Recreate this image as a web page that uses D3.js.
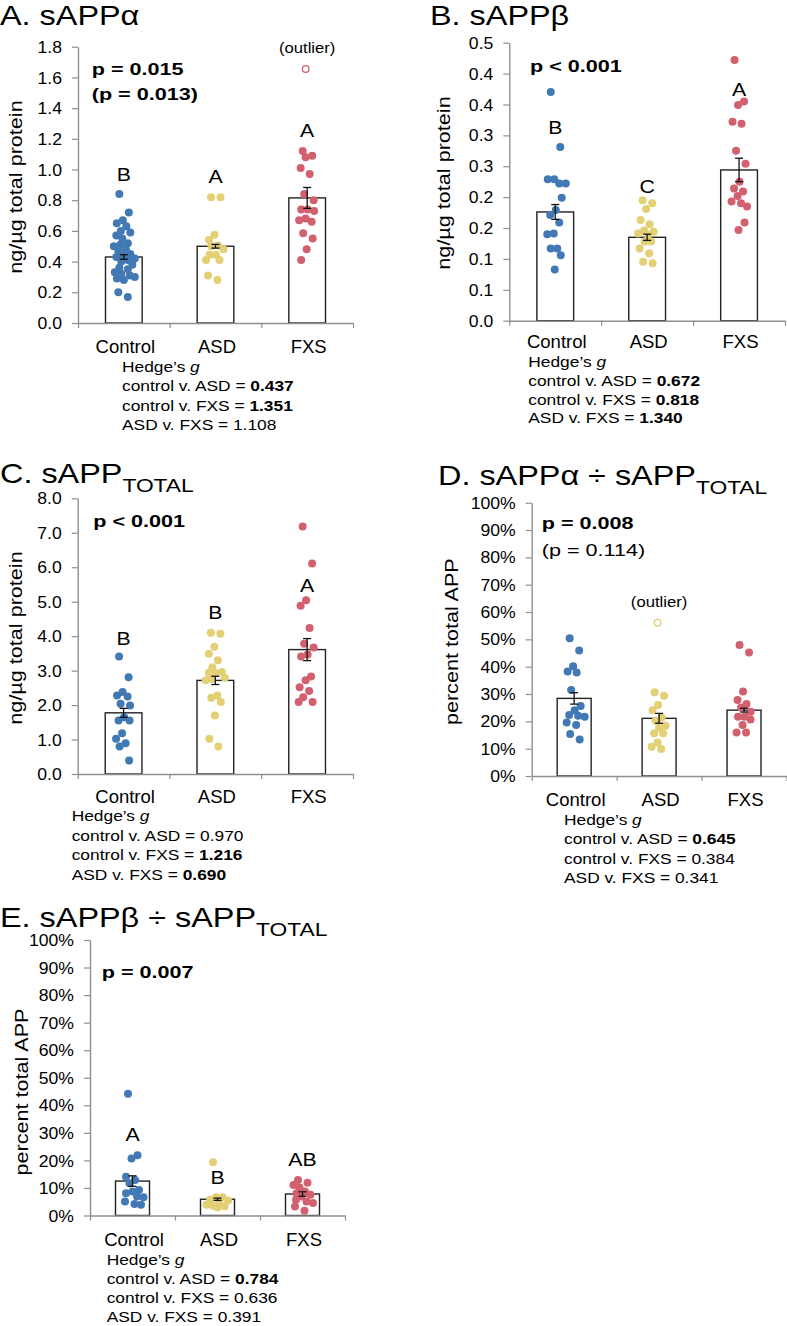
<!DOCTYPE html>
<html><head><meta charset="utf-8">
<script src="https://cdn.jsdelivr.net/npm/d3@7"></script>
<style>
body{margin:0;background:#fff;}
svg{display:block;font-family:"Liberation Sans",Arial,sans-serif;}
</style></head>
<body><svg id="chart" width="787" height="1326"></svg>
<script>
// ---------- DATA ----------
const categories = ["Control", "ASD", "FXS"];
const groupColors = ["#4279b4", "#e3cf74", "#d3606f"];
const comparisons = ["control v. ASD = ", "control v. FXS = ", "ASD v. FXS = "];

// Panel A: sAPPα (ng/µg total protein)
const aControl = [0.84,0.72,0.67,0.65,0.63,0.60,0.59,0.57,0.55,0.52,0.51,0.50,0.48,0.47,0.45,0.44,0.43,0.42,0.41,0.40,0.38,0.36,0.35,0.33,0.32,0.31,0.30,0.29,0.28,0.20,0.17];
const aASD = [0.82,0.82,0.575,0.54,0.505,0.50,0.48,0.445,0.445,0.41,0.41,0.31,0.28];
const aFXS = [1.12,1.09,1.08,1.01,0.97,0.84,0.80,0.74,0.74,0.73,0.68,0.67,0.66,0.585,0.55,0.48,0.41];
const aOutliers = [null, null, 1.655];
const aMeans = [0.43, 0.50, 0.815];
const aSE = [0.015, 0.012, 0.068];
const aLetters = ["B", "A", "A"];
const aLetterY = [0.922, 0.915, 1.21];
const aTicks = [0,0.2,0.4,0.6,0.8,1.0,1.2,1.4,1.6,1.8];
const aTickLabels = ["0.0","0.2","0.4","0.6","0.8","1.0","1.2","1.4","1.6","1.8"];
const aPText = ["p = 0.015", "(p = 0.013)"];
const aHedge = ["0.437", "1.351", "1.108"];
const aHedgeBold = [true, true, false];

// Panel B: sAPPβ
const bControl = [0.370,0.281,0.229,0.229,0.222,0.222,0.199,0.179,0.171,0.159,0.141,0.140,0.117,0.117,0.106,0.083];
const bASD = [0.195,0.190,0.181,0.163,0.156,0.146,0.144,0.141,0.139,0.128,0.128,0.117,0.109,0.0955,0.093];
const bFXS = [0.422,0.355,0.349,0.322,0.319,0.275,0.254,0.225,0.214,0.209,0.202,0.193,0.190,0.185,0.159,0.147];
const bMeans = [0.176, 0.135, 0.244];
const bSE = [0.012, 0.005, 0.019];
const bLetters = ["B", "C", "A"];
const bLetterY = [0.303, 0.207, 0.364];
const bTicks = [0,0.05,0.10,0.15,0.20,0.25,0.30,0.35,0.40,0.45];
const bTickLabels = ["0.0","0.1","0.1","0.2","0.2","0.3","0.3","0.4","0.4","0.5"];
const bPText = ["p < 0.001"];
const bHedge = ["0.672", "0.818", "1.340"];
const bHedgeBold = [true, true, true];

// Panel C: sAPP total
const cControl = [3.41,2.81,2.38,2.28,2.25,2.04,1.99,1.65,1.55,1.55,1.18,1.02,0.89,0.80,0.39];
const cASD = [4.10,4.07,3.69,3.49,3.30,3.10,2.96,2.94,2.93,2.79,2.76,2.72,2.28,2.21,2.09,1.70,1.02,0.80];
const cFXS = [7.18,6.11,5.04,4.88,4.24,3.78,3.67,3.47,3.41,2.83,2.72,2.52,2.41,2.23,2.09,2.09];
const cMeans = [1.775, 2.716, 3.61];
const cSE = [0.13, 0.12, 0.32];
const cLetters = ["B", "B", "A"];
const cLetterY = [3.75, 4.51, 5.29];
const cTicks = [0,1,2,3,4,5,6,7,8];
const cTickLabels = ["0.0","1.0","2.0","3.0","4.0","5.0","6.0","7.0","8.0"];
const cPText = ["p < 0.001"];
const cHedge = ["0.970", "1.216", "0.690"];
const cHedgeBold = [false, true, true];

// Panel D: sAPPα ÷ sAPP total (percent)
const dControl = [50.4,45.9,40.2,38.2,37.9,31.5,25.6,24.1,22.3,22.0,21.7,19.6,18.7,15.4,13.4];
const dASD = [30.6,29.4,26.0,24.1,21.3,20.2,18.4,17.7,15.6,15.6,12.3,10.7,9.9];
const dFXS = [47.9,45.2,30.9,27.8,26.3,25.1,23.5,21.7,21.7,20.7,18.7,15.9,15.9];
const dOutliers = [null, 56.1, null];
const dMeans = [28.4, 21.1, 24.1];
const dSE = [2.1, 1.8, 0.7];
const pctTicks = [0,10,20,30,40,50,60,70,80,90,100];
const pctTickLabels = ["0%","10%","20%","30%","40%","50%","60%","70%","80%","90%","100%"];
const dPText = ["p = 0.008", "(p = 0.114)"];
const dHedge = ["0.645", "0.384", "0.341"];
const dHedgeBold = [true, false, false];

// Panel E: sAPPβ ÷ sAPP total (percent)
const eControl = [44.2,21.9,20.7,14.1,12.9,11.7,9.3,8.7,8.1,6.9,6.6,5.1,4.2,3.9];
const eASD = [19.3,6.6,6.6,5.7,5.4,4.5,3.9,3.5,3.3,2.9];
const eFXS = [12.9,11.9,11.1,10.2,8.7,8.1,7.5,6.9,5.7,5.1,4.5,3.3,1.7];
const eMeans = [12.5, 5.9, 7.8];
const eSE = [1.9, 0.4, 0.8];
const eLetters = ["A", "B", "AB"];
const eLetterY = [27.0, 11.3, 18.0];
const ePText = ["p = 0.007"];
const eHedge = ["0.784", "0.636", "0.391"];
const eHedgeBold = [true, false, false];

// ---------- DRAWING ----------
const svg = d3.select("#chart");
const FONT = {
  title: {size: 27, sx: 1.2},
  sub: 19,
  p: {size: 17, sx: 1.27},
  tick: {size: 16, sx: 1.1},
  ylab: {size: 18, sx: 1.2},
  cat: {size: 18.5, sx: 1.0},
  hedge: {size: 15.5, sx: 1.12},
  letter: {size: 19, sx: 1.12},
  outl: {size: 14.5, sx: 1.15}
};

function textAt(parent, x, y, f, opts = {}) {
  const g = parent.append("g")
    .attr("transform", `translate(${x},${y}) rotate(${opts.rot || 0}) scale(${f.sx},1)`);
  return g.append("text")
    .attr("font-size", f.size)
    .attr("font-weight", opts.bold ? "bold" : "normal")
    .attr("text-anchor", opts.anchor || "start")
    .attr("fill", "#000");
}

function swarm(vals, y, r) {
  const pts = vals.map((v, i) => ({v, i, py: y(v), pref: ((((i * 0.618034) + 0.21) % 1) - 0.5) * 15}));
  const placed = [];
  const order = pts.slice().sort((a, b) => a.py - b.py);
  const minD = r * 1.6;
  for (const p of order) {
    let best = 0, bestScore = -Infinity;
    for (let dx = -11; dx <= 11; dx += 0.5) {
      let md = Infinity;
      for (const q of placed) {
        const d = Math.hypot(q.dx - dx, q.py - p.py);
        if (d < md) md = d;
      }
      const score = md >= minD ? 1000 - Math.abs(dx - p.pref) : md - 0.01 * Math.abs(dx - p.pref);
      if (score > bestScore) { bestScore = score; best = dx; }
    }
    p.dx = best;
    placed.push(p);
  }
  return pts;
}

function panel(cfg) {
  const g = svg.append("g");
  const y = d3.scaleLinear().domain([0, cfg.max]).range([cfg.y1, cfg.y0]);
  const x = d3.scaleBand().domain(categories).range([cfg.x0, cfg.x1]).paddingInner(0.6).paddingOuter(0.3);
  const xb = d3.scaleLinear().domain([0, 3]).range([cfg.x0, cfg.x1]);
  const axisCol = "#8f8f8f";

  // bars
  g.selectAll("rect.bar").data(cfg.means).join("rect")
    .attr("x", (d, i) => x(categories[i]))
    .attr("y", d => y(d))
    .attr("width", x.bandwidth())
    .attr("height", d => y(0) - y(d))
    .attr("fill", "#fff").attr("stroke", "#222").attr("stroke-width", 1.4);

  // axes
  const ya = g.append("g").attr("transform", `translate(${cfg.x0},0)`)
    .call(d3.axisLeft(y).tickValues(cfg.ticks).tickFormat((d, i) => cfg.tickLabels[i]).tickSize(6).tickSizeOuter(0));
  ya.select(".domain").attr("stroke", axisCol).attr("stroke-width", 1.4);
  ya.selectAll(".tick line").attr("stroke", axisCol).attr("stroke-width", 1.2);
  ya.selectAll(".tick text")
    .attr("x", 0).attr("dy", "0.35em")
    .attr("transform", `translate(-16,0) scale(${FONT.tick.sx},1)`)
    .attr("font-size", FONT.tick.size).attr("font-family", null).attr("fill", "#000");

  const xa = g.append("g").attr("transform", `translate(0,${cfg.y1})`)
    .call(d3.axisBottom(xb).tickValues([0, 1, 2, 3]).tickFormat("").tickSize(5).tickSizeOuter(0));
  xa.select(".domain").attr("stroke", axisCol).attr("stroke-width", 1.4);
  xa.selectAll(".tick line").attr("stroke", axisCol).attr("stroke-width", 1.2);

  // dots
  const r = 4.0;
  cfg.groups.forEach((vals, gi) => {
    const cx = x(categories[gi]) + x.bandwidth() / 2;
    const pts = swarm(vals, y, r);
    g.append("g").selectAll("circle").data(pts).join("circle")
      .attr("cx", d => cx + d.dx).attr("cy", d => d.py).attr("r", r)
      .attr("fill", groupColors[gi]);
  });
  // outliers (open)
  (cfg.outliers || []).forEach((v, gi) => {
    if (v == null) return;
    const cx = x(categories[gi]) + x.bandwidth() / 2;
    g.append("circle").attr("cx", cx - 1.5).attr("cy", y(v)).attr("r", 3.3)
      .attr("fill", "#fff").attr("stroke", groupColors[gi]).attr("stroke-width", 1.3);
    textAt(g, cx, y(v) - 16, FONT.outl, {anchor: "middle"}).text("(outlier)");
  });

  // error bars
  cfg.means.forEach((m, i) => {
    const cx = x(categories[i]) + x.bandwidth() / 2;
    const se = cfg.se[i];
    const eg = g.append("g").attr("stroke", "#111").attr("stroke-width", 1.3);
    eg.append("line").attr("x1", cx).attr("x2", cx).attr("y1", y(m - se)).attr("y2", y(m + se));
    eg.append("line").attr("x1", cx - 4).attr("x2", cx + 4).attr("y1", y(m + se)).attr("y2", y(m + se));
    eg.append("line").attr("x1", cx - 4).attr("x2", cx + 4).attr("y1", y(m - se)).attr("y2", y(m - se));
  });

  // letters
  (cfg.letters || []).forEach((L, i) => {
    const cx = x(categories[i]) + x.bandwidth() / 2;
    textAt(g, cx, y(cfg.letterY[i]), FONT.letter, {anchor: "middle"}).text(L);
  });

  // category labels
  categories.forEach((c, i) => {
    const cx = x(c) + x.bandwidth() / 2;
    textAt(g, cx + 1.5, cfg.catY, FONT.cat, {anchor: "middle"}).text(c);
  });

  // title
  const t = textAt(g, cfg.titleX, cfg.titleY, FONT.title);
  t.append("tspan").text(cfg.title);
  if (cfg.sub) t.append("tspan").attr("font-size", FONT.sub).attr("dy", 9).text(cfg.sub);

  // y label
  textAt(g, cfg.ylabX, cfg.ylabY, FONT.ylab, {rot: -90, anchor: "middle"}).text(cfg.ylab);

  // p text
  cfg.pText.forEach((s, i) => {
    textAt(g, cfg.pX, cfg.pY + i * cfg.pLine, FONT.p, {bold: cfg.pBold[i]}).text(s);
  });

  // Hedge's g block
  const h0 = textAt(g, cfg.hX, cfg.hY, FONT.hedge);
  h0.append("tspan").text("Hedge’s ");
  h0.append("tspan").attr("font-style", "italic").text("g");
  comparisons.forEach((c, i) => {
    const ht = textAt(g, cfg.hX, cfg.hY + (i + 1) * cfg.hLine, FONT.hedge);
    ht.append("tspan").text(c);
    ht.append("tspan").attr("font-weight", cfg.hedgeBold[i] ? "bold" : "normal").text(cfg.hedge[i]);
  });
}

panel({title: "A. sAPPα", titleX: 0, titleY: 25, x0: 78, x1: 353, y0: 46.7, y1: 323, max: 1.8,
  ticks: aTicks, tickLabels: aTickLabels, groups: [aControl, aASD, aFXS], outliers: aOutliers,
  means: aMeans, se: aSE, letters: aLetters, letterY: aLetterY,
  ylab: "ng/µg total protein", ylabX: 22, ylabY: 187,
  pText: aPText, pBold: [true, true], pX: 91.7, pY: 75, pLine: 25,
  catY: 352.5, hX: 122, hY: 371.7, hLine: 19.4, hedge: aHedge, hedgeBold: aHedgeBold});

panel({title: "B. sAPPβ", titleX: 430, titleY: 25, x0: 509.3, x1: 785, y0: 42.7, y1: 320.7, max: 0.45,
  ticks: bTicks, tickLabels: bTickLabels, groups: [bControl, bASD, bFXS],
  means: bMeans, se: bSE, letters: bLetters, letterY: bLetterY,
  ylab: "ng/µg total protein", ylabX: 450, ylabY: 183,
  pText: bPText, pBold: [true], pX: 530, pY: 71.7, pLine: 25,
  catY: 348.3, hX: 528.3, hY: 366.7, hLine: 18.9, hedge: bHedge, hedgeBold: bHedgeBold});

panel({title: "C. sAPP", sub: "TOTAL", titleX: 0, titleY: 483.3, x0: 77.7, x1: 353, y0: 498.3, y1: 774, max: 8,
  ticks: cTicks, tickLabels: cTickLabels, groups: [cControl, cASD, cFXS],
  means: cMeans, se: cSE, letters: cLetters, letterY: cLetterY,
  ylab: "ng/µg total protein", ylabX: 22, ylabY: 638,
  pText: cPText, pBold: [true], pX: 93.3, pY: 527.3, pLine: 25,
  catY: 803.3, hX: 71.7, hY: 821, hLine: 19.6, hedge: cHedge, hedgeBold: cHedgeBold});

panel({title: "D. sAPPα ÷ sAPP", sub: "TOTAL", titleX: 438, titleY: 485, x0: 531.7, x1: 786.5, y0: 502.7, y1: 776, max: 100,
  ticks: pctTicks, tickLabels: pctTickLabels, groups: [dControl, dASD, dFXS], outliers: dOutliers,
  means: dMeans, se: dSE, letters: [], letterY: [],
  ylab: "percent total APP", ylabX: 458, ylabY: 641.7,
  pText: dPText, pBold: [true, false], pX: 541.7, pY: 529, pLine: 27,
  catY: 805.7, hX: 564, hY: 825, hLine: 19.4, hedge: dHedge, hedgeBold: dHedgeBold});

panel({title: "E. sAPPβ ÷ sAPP", sub: "TOTAL", titleX: 0, titleY: 926.5, x0: 90, x1: 345, y0: 940, y1: 1215.5, max: 100,
  ticks: pctTicks, tickLabels: pctTickLabels, groups: [eControl, eASD, eFXS],
  means: eMeans, se: eSE, letters: eLetters, letterY: eLetterY,
  ylab: "percent total APP", ylabX: 28, ylabY: 1092,
  pText: ePText, pBold: [true], pX: 101.7, pY: 978.3, pLine: 25,
  catY: 1246, hX: 106.7, hY: 1265, hLine: 19, hedge: eHedge, hedgeBold: eHedgeBold});
</script></body></html>
